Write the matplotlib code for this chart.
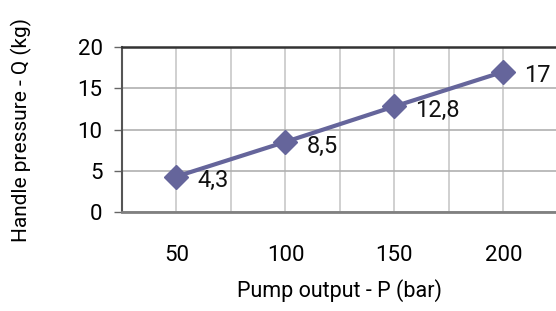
import matplotlib
matplotlib.use("Agg")
import matplotlib.pyplot as plt
from matplotlib.ticker import MultipleLocator

# ==========================================
# Data
# ==========================================

pump_output = [50, 100, 150, 200]
handle_pressure = [4.3, 8.5, 12.8, 17]
value_labels = ["4,3", "8,5", "12,8", "17"]

LINE_COLOR = "#65659b"

plt.rcParams['font.family'] = ['Roboto', 'DejaVu Sans']

fig = plt.figure(figsize=(5.56, 3.11), dpi=100)
ax = fig.add_axes([0.2194, 0.3183, 0.784, 0.5306])

ax.plot(
    pump_output,
    handle_pressure,
    color=LINE_COLOR,
    linewidth=3,
    marker="D",
    markersize=12,
    zorder=3
)

for x, y, txt in zip(pump_output, handle_pressure, value_labels):
    ax.annotate(
        txt,
        (x, y),
        xytext=(15, -3),
        textcoords="offset points",
        ha="left",
        va="center",
        fontsize=17,
        color="#111111"
    )

ax.set_xlim(25, 225)
ax.set_ylim(0, 20)
ax.set_xticks(pump_output)
ax.xaxis.set_minor_locator(MultipleLocator(25))
ax.yaxis.set_major_locator(MultipleLocator(5))

ax.grid(True, which="both", axis="x", color="#c8c8c8", linewidth=1.2)
ax.grid(True, which="major", axis="y", color="#b0b0b0", linewidth=1.2)
ax.set_axisbelow(True)

ax.tick_params(axis="x", which="both", length=0, pad=24, labelsize=16)
ax.tick_params(axis="y", length=6, width=1, color="#666666", pad=8, labelsize=16)

ax.spines["top"].set_color("#333333")
ax.spines["top"].set_linewidth(1.8)
ax.spines["bottom"].set_color("#808080")
ax.spines["bottom"].set_linewidth(2)
ax.spines["left"].set_color("#555555")
ax.spines["left"].set_linewidth(1.5)
ax.spines["right"].set_visible(False)

ax.set_xlabel("Pump output - P (bar)", fontsize=15.5, labelpad=9)
ax.set_ylabel("Handle pressure - Q (kg)", fontsize=15, labelpad=33)

fig.savefig("out.png", dpi=100)
